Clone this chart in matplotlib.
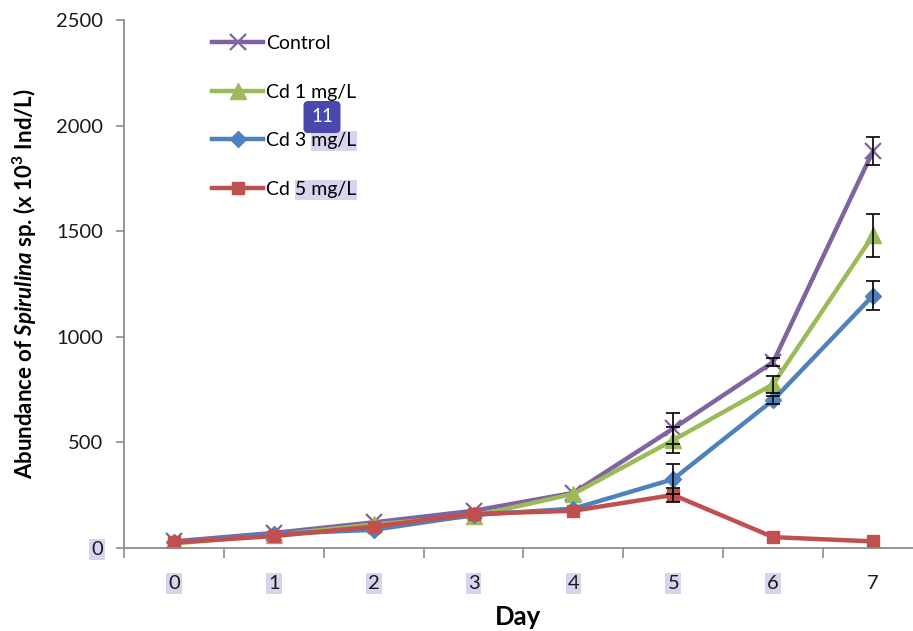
import numpy as np
import matplotlib
matplotlib.use("Agg")
import matplotlib.pyplot as plt
from matplotlib.patches import Rectangle

plt.rcParams['font.family'] = ['Lato', 'DejaVu Sans']
plt.rcParams['mathtext.fontset'] = 'custom'
plt.rcParams['mathtext.rm'] = 'Lato:bold'
plt.rcParams['mathtext.it'] = 'Lato:italic:bold'

days = [0, 1, 2, 3, 4, 5, 6, 7]
day_labels = ['0', '1', '2', '3', '4', '5', '6', '7']

control = [30, 70, 120, 175, 260, 565, 880, 1880]
cd1 = [20, 60, 110, 150, 255, 510, 775, 1480]
cd3 = [25, 65, 85, 155, 185, 325, 700, 1195]
cd5 = [25, 55, 100, 160, 175, 250, 50, 30]

control_err = [0, 0, 0, 0, 0, 75, 20, 65]
cd1_err = [0, 0, 0, 0, 0, 60, 40, 100]
cd3_err = [0, 0, 0, 0, 0, 70, 20, 70]
cd5_err = [0, 0, 0, 0, 0, 35, 0, 0]

series = [
    ('Control', control, control_err, '#8064A2', 'x', 12),
    ('Cd 1 mg/L', cd1, cd1_err, '#9BBB59', '^', 11),
    ('Cd 3 mg/L', cd3, cd3_err, '#4F81BD', 'D', 8),
    ('Cd 5 mg/L', cd5, cd5_err, '#C0504D', 's', 8),
]

fig = plt.figure(figsize=(9.13, 6.31), dpi=100)
ax = fig.add_axes([0.1358, 0.132, 0.8642, 0.836])

for name, vals, err, col, mk, ms in series:
    ax.plot(days, vals, color=col, lw=3.2, marker=mk, markersize=ms,
            markeredgewidth=1.6 if mk == 'x' else 1, markeredgecolor=col,
            markerfacecolor=col, label=name, zorder=2)
    idx = [i for i, e in enumerate(err) if e > 0]
    ax.errorbar([days[i] for i in idx], [vals[i] for i in idx], yerr=[err[i] for i in idx],
                fmt='none', ecolor='black', elinewidth=1.2, capsize=5, capthick=1.2, zorder=3)

ax.set_xlim(-0.5, 7.4)
ax.set_ylim(0, 2500)
ax.set_xticks(days)
ax.set_xticklabels(day_labels)
ax.set_xticks(np.arange(-0.5, 7.5, 1), minor=True)
ax.tick_params(axis='x', which='major', length=0, pad=20, labelsize=14.5)
ax.tick_params(axis='x', which='minor', length=7, width=1.2, color='#8c8c8c', direction='out')
ax.set_yticks([0, 500, 1000, 1500, 2000, 2500])
ax.tick_params(axis='y', length=6, width=1.2, color='#8c8c8c', labelsize=14.5, pad=9)
for lab in ax.get_yticklabels() + ax.get_xticklabels():
    lab.set_color('#1a1a1a')
for s in ['top', 'right']:
    ax.spines[s].set_visible(False)
for s in ['left', 'bottom']:
    ax.spines[s].set_color('#8c8c8c')
    ax.spines[s].set_linewidth(1.3)

ax.set_xlabel('Day', fontsize=18.5, fontweight='bold', labelpad=9)
ax.set_ylabel(r'Abundance of $\mathit{Spirulina}$ sp. (x 10$^{3}$ Ind/L)',
              fontsize=16, fontweight='bold', labelpad=12)

leg = ax.legend(loc='upper left', bbox_to_anchor=(0.09, 1.005), frameon=False,
                fontsize=14, labelspacing=1.62, handlelength=2.6, handletextpad=0.15)

# highlight marks present in the reference
hl = '#d6d4ee'
for lab in ax.get_xticklabels()[:7] + [ax.get_yticklabels()[0]]:
    lab.set_bbox(dict(facecolor=hl, edgecolor='none', pad=1.5))

fig.canvas.draw()
renderer = fig.canvas.get_renderer()
inv = fig.transFigure.inverted()
for t, prefix in [(leg.get_texts()[2], 'Cd 3 '), (leg.get_texts()[3], 'Cd ')]:
    bb = t.get_window_extent(renderer)
    tmp = fig.text(0, 0, prefix, fontproperties=t.get_fontproperties())
    w = tmp.get_window_extent(renderer).width
    tmp.remove()
    x0, y0 = inv.transform((bb.x0 + w, bb.y0 - 2))
    x1, y1 = inv.transform((bb.x1 + 1, bb.y1 + 1))
    ax.add_patch(Rectangle((x0, y0), x1 - x0, y1 - y0, transform=fig.transFigure,
                           facecolor=hl, edgecolor='none', zorder=4, clip_on=False))

fig.text(322 / 913, 1 - 117 / 631, '11', ha='center', va='center', color='white', fontsize=13.5,
         bbox=dict(boxstyle='round,pad=0.4,rounding_size=0.25', facecolor='#4a47ad', edgecolor='none'),
         zorder=10)

fig.savefig('out.png', dpi=100)
